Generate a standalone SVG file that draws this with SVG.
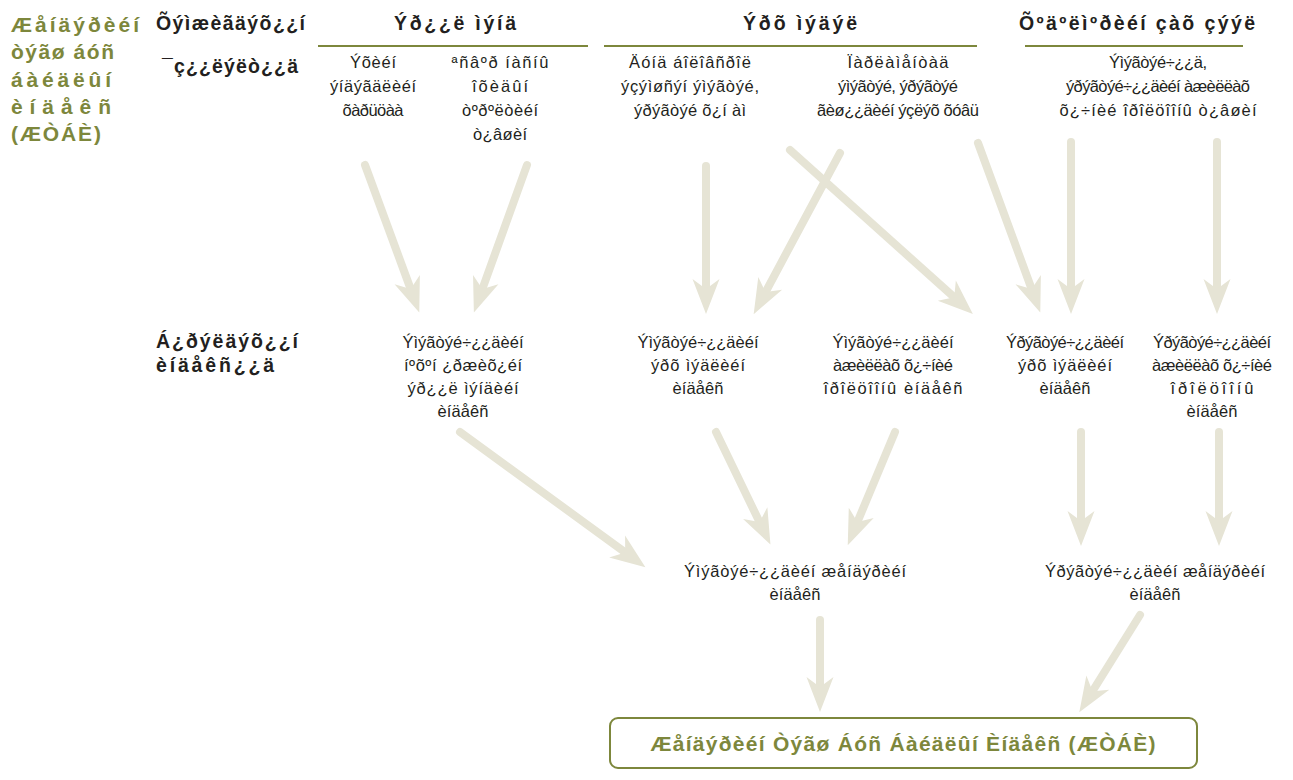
<svg xmlns="http://www.w3.org/2000/svg" width="1293" height="780" viewBox="0 0 1293 780">
<style>
text{font-family:"Liberation Sans",Arial,sans-serif;fill:#231f20}
.b{font-size:16.5px;text-anchor:middle}
.h{font-size:19.5px;font-weight:bold}
.c{text-anchor:middle}
.g{fill:#7d873c;font-weight:bold;font-size:21px}
.ul{stroke:#7d873c;stroke-width:2}
.ar{stroke:#e6e4d5;stroke-width:8;stroke-linecap:round;fill:none;marker-end:url(#ah)}
</style>
<defs>
<marker id="ah" markerUnits="userSpaceOnUse" viewBox="-20 -20 60 40" refX="0" refY="0" markerWidth="60" markerHeight="40" orient="auto" overflow="visible">
<path d="M24,0 L-11,-13.5 L-1,0 L-11,13.5 Z" fill="#e6e4d5"/>
</marker>
</defs>
<g id="title">
<text class="g" x="11" y="32" textLength="128" lengthAdjust="spacing">Æåíäýðèéí</text>
<text class="g" x="11" y="59" textLength="103" lengthAdjust="spacing">òýãø áóñ</text>
<text class="g" x="11" y="87" textLength="100" lengthAdjust="spacing">áàéäëûí</text>
<text class="g" x="11" y="114" textLength="100" lengthAdjust="spacing">èíäåêñ</text>
<text class="g" x="11" y="141" textLength="90" lengthAdjust="spacing">(ÆÒÁÈ)</text>
</g>
<g id="headers">
<text class="h" x="156" y="30" textLength="149" lengthAdjust="spacing">Õýìæèãäýõ¿¿í</text>
<text class="h c" x="455" y="30" textLength="122" lengthAdjust="spacing">Ýð¿¿ë ìýíä</text>
<text class="h c" x="800" y="30" textLength="114" lengthAdjust="spacing">Ýðõ ìýäýë</text>
<text class="h c" x="1137" y="30" textLength="236" lengthAdjust="spacing">Õºäºëìºðèéí çàõ çýýë</text>
<line class="ul" x1="318" y1="46" x2="588" y2="46"/>
<line class="ul" x1="604" y1="46" x2="977" y2="46"/>
<line class="ul" x1="1025" y1="46" x2="1243" y2="46"/>
<text class="h" x="162" y="73" textLength="136" lengthAdjust="spacing">¯ç¿¿ëýëò¿¿ä</text>
<text class="h" x="156" y="348" textLength="142" lengthAdjust="spacing">Á¿ðýëäýõ¿¿í</text>
<text class="h" x="156" y="372" textLength="118" lengthAdjust="spacing">èíäåêñ¿¿ä</text>
</g>
<g id="ind1"><text class="b" x="373" y="68" textLength="46" lengthAdjust="spacing">Ýõèéí</text><text class="b" x="373" y="92" textLength="86" lengthAdjust="spacing">ýíäýãäëèéí</text><text class="b" x="373" y="116" textLength="61" lengthAdjust="spacing">õàðüöàà</text></g>
<g id="ind2"><text class="b" x="500" y="68" textLength="97" lengthAdjust="spacing">ªñâºð íàñíû</text><text class="b" x="500" y="92" textLength="56" lengthAdjust="spacing">îõèäûí</text><text class="b" x="500" y="116" textLength="76" lengthAdjust="spacing">òºðºëòèéí</text><text class="b" x="500" y="140" textLength="54" lengthAdjust="spacing">ò¿âøèí</text></g>
<g id="ind3"><text class="b" x="690" y="68" textLength="122" lengthAdjust="spacing">Äóíä áîëîâñðîë</text><text class="b" x="690" y="92" textLength="138" lengthAdjust="spacing">ýçýìøñýí ýìýãòýé,</text><text class="b" x="690" y="116" textLength="112" lengthAdjust="spacing">ýðýãòýé õ¿í  àì</text></g>
<g id="ind4"><text class="b" x="898" y="68" textLength="101" lengthAdjust="spacing">Ïàðëàìåíòàä</text><text class="b" x="898" y="92" textLength="120" lengthAdjust="spacing">ýìýãòýé, ýðýãòýé</text><text class="b" x="898" y="116" textLength="162" lengthAdjust="spacing">ãèø¿¿äèéí ýçëýõ õóâü</text></g>
<g id="ind5"><text class="b" x="1158" y="68" textLength="98" lengthAdjust="spacing">Ýìýãòýé÷¿¿ä,</text><text class="b" x="1158" y="92" textLength="184" lengthAdjust="spacing">ýðýãòýé÷¿¿äèéí àæèëëàõ</text><text class="b" x="1158" y="116" textLength="197" lengthAdjust="spacing">õ¿÷íèé îðîëöîîíû ò¿âøèí</text></g>
<g id="cA"><text class="b" x="463" y="348" textLength="121" lengthAdjust="spacing">Ýìýãòýé÷¿¿äèéí</text><text class="b" x="463" y="371" textLength="118" lengthAdjust="spacing">íºõºí ¿ðæèõ¿éí</text><text class="b" x="463" y="394" textLength="111" lengthAdjust="spacing">ýð¿¿ë ìýíäèéí</text><text class="b" x="463" y="417" textLength="51" lengthAdjust="spacing">èíäåêñ</text></g>
<g id="cB"><text class="b" x="698" y="348" textLength="121" lengthAdjust="spacing">Ýìýãòýé÷¿¿äèéí</text><text class="b" x="698" y="371" textLength="94" lengthAdjust="spacing">ýðõ ìýäëèéí</text><text class="b" x="698" y="394" textLength="51" lengthAdjust="spacing">èíäåêñ</text></g>
<g id="cC"><text class="b" x="893" y="348" textLength="121" lengthAdjust="spacing">Ýìýãòýé÷¿¿äèéí</text><text class="b" x="893" y="371" textLength="120" lengthAdjust="spacing">àæèëëàõ õ¿÷íèé</text><text class="b" x="893" y="394" textLength="139" lengthAdjust="spacing">îðîëöîîíû èíäåêñ</text></g>
<g id="cD"><text class="b" x="1065" y="348" textLength="118" lengthAdjust="spacing">Ýðýãòýé÷¿¿äèéí</text><text class="b" x="1065" y="371" textLength="94" lengthAdjust="spacing">ýðõ ìýäëèéí</text><text class="b" x="1065" y="394" textLength="51" lengthAdjust="spacing">èíäåêñ</text></g>
<g id="cE"><text class="b" x="1212" y="348" textLength="118" lengthAdjust="spacing">Ýðýãòýé÷¿¿äèéí</text><text class="b" x="1212" y="371" textLength="120" lengthAdjust="spacing">àæèëëàõ õ¿÷íèé</text><text class="b" x="1212" y="394" textLength="83" lengthAdjust="spacing">îðîëöîîíû</text><text class="b" x="1212" y="417" textLength="51" lengthAdjust="spacing">èíäåêñ</text></g>
<g id="gF"><text class="b" x="795" y="577" textLength="222" lengthAdjust="spacing">Ýìýãòýé÷¿¿äèéí  æåíäýðèéí</text><text class="b" x="795" y="600" textLength="51" lengthAdjust="spacing">èíäåêñ</text></g>
<g id="gM"><text class="b" x="1155" y="577" textLength="220" lengthAdjust="spacing">Ýðýãòýé÷¿¿äèéí  æåíäýðèéí</text><text class="b" x="1155" y="600" textLength="51" lengthAdjust="spacing">èíäåêñ</text></g>
<g id="gii">
<rect x="610" y="718" width="587" height="50" rx="8" fill="#fff" stroke="#7d873c" stroke-width="2"/>
<text class="g c" x="903" y="751" style="font-size:21px" textLength="505" lengthAdjust="spacing">Æåíäýðèéí Òýãø Áóñ Áàéäëûí Èíäåêñ (ÆÒÁÈ)</text>
</g>
<g id="connectors">
<line class="ar" x1="365" y1="165" x2="411" y2="290"/>
<line class="ar" x1="527" y1="165" x2="482" y2="290"/>
<line class="ar" x1="706" y1="166" x2="706" y2="290"/>
<line class="ar" x1="840" y1="153" x2="765" y2="293"/>
<line class="ar" x1="790" y1="150" x2="955" y2="298"/>
<line class="ar" x1="978" y1="143" x2="1032" y2="290"/>
<line class="ar" x1="1071" y1="142" x2="1071" y2="290"/>
<line class="ar" x1="1217" y1="142" x2="1217" y2="290"/>
<line class="ar" x1="460" y1="432" x2="626" y2="553"/>
<line class="ar" x1="716" y1="432" x2="760" y2="523"/>
<line class="ar" x1="895" y1="432" x2="857" y2="523"/>
<line class="ar" x1="1081" y1="432" x2="1081" y2="522"/>
<line class="ar" x1="1219" y1="432" x2="1219" y2="522"/>
<line class="ar" x1="820" y1="620" x2="820" y2="688"/>
<line class="ar" x1="1140" y1="615" x2="1092" y2="692"/>
</g>
</svg>
